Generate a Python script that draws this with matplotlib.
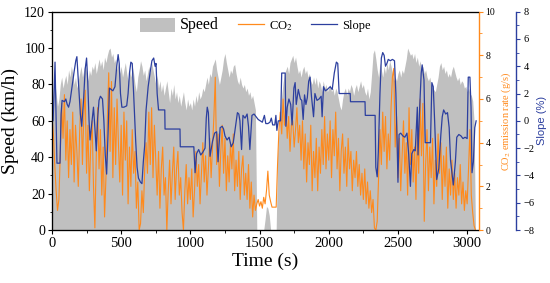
import numpy as np
import matplotlib
matplotlib.use("Agg")
import matplotlib.pyplot as plt
from matplotlib.patches import Patch, Rectangle
from matplotlib.lines import Line2D
from matplotlib.legend_handler import HandlerPatch
from matplotlib.ticker import MultipleLocator

plt.rcParams['font.family'] = ['Liberation Serif', 'DejaVu Serif']
plt.rcParams['mathtext.fontset'] = 'stix'

# time grid (s), one sample every 10 s
time = np.arange(0, 3061, 10)

# speed (km/h)
speed = [
    70, 78, 82, 75, 68, 72, 80, 84, 78, 82,
    85, 80, 88, 84, 90, 86, 80, 84, 78, 82,
    86, 90, 84, 88, 92, 86, 82, 88, 85, 90,
    88, 92, 86, 90, 94, 90, 93, 88, 95, 92,
    96, 99, 100, 95, 97, 92, 94, 88, 92, 86,
    90, 84, 88, 92, 86, 82, 88, 84, 90, 86,
    80, 76, 84, 88, 93, 90, 85, 88, 82, 86,
    90, 86, 92, 88, 84, 80, 85, 78, 82, 76,
    80, 74, 78, 82, 76, 70, 78, 74, 80, 72,
    76, 70, 74, 68, 72, 76, 70, 66, 72, 68,
    70, 66, 72, 68, 74, 70, 76, 72, 74, 78,
    76, 80, 84, 80, 86, 84, 90, 92, 94, 88,
    84, 80, 84, 88, 94, 97, 92, 88, 84, 88,
    86, 90, 91, 86, 82, 80, 84, 80, 78, 80,
    76, 78, 74, 76, 72, 74, 70, 66, 0, 0,
    0, 0, 0, 0, 6, 13, 12, 8, 0, 0,
    0, 0, 0, 42, 55, 66, 74, 81, 86, 88,
    90, 86, 92, 94, 96, 92, 95, 90, 86, 88,
    84, 88, 90, 86, 88, 84, 86, 82, 80, 84,
    80, 84, 78, 82, 80, 76, 82, 78, 80, 76,
    78, 80, 76, 78, 74, 78, 76, 72, 68, 66,
    72, 76, 78, 74, 78, 76, 80, 78, 74, 78,
    80, 76, 79, 82, 78, 80, 76, 74, 78, 72,
    76, 86, 97, 99, 94, 88, 84, 92, 88, 84,
    90, 86, 92, 88, 93, 90, 86, 82, 84, 82,
    86, 88, 84, 88, 86, 90, 94, 100, 98, 96,
    97, 94, 97, 92, 95, 90, 93, 88, 90, 86,
    88, 84, 82, 84, 80, 78, 77, 76, 80, 84,
    90, 92, 88, 90, 86, 88, 84, 86, 84, 88,
    90, 87, 84, 82, 84, 80, 82, 81, 78, 79,
    76, 78, 75, 74, 71, 60, 0,
]

# CO2 emission rate (g/s)
co2 = [
    5.2, 4.4, 3.0, 1.8, 0.9, 1.4, 3.5, 5.8, 4.2, 6.2,
    3.2, 5.0, 2.4, 4.6, 3.0, 5.4, 2.2, 4.8, 3.6, 2.0,
    4.5, 6.0, 3.0, 5.2, 6.4, 2.6, 4.8, 1.8, 3.8, 5.0,
    2.0, 0.1, 3.4, 5.6, 2.8, 4.6, 1.6, 3.8, 0.6, 2.4,
    5.0, 7.2, 3.6, 6.8, 2.4, 5.6, 3.0, 6.0, 4.0, 2.2,
    4.8, 1.6, 5.4, 3.2, 5.0, 1.2, 3.8, 2.0, 4.6, 2.6,
    3.6, 1.0, 2.2, 0.0, 0.3, 1.8, 0.8, 2.8, 4.0, 2.6,
    5.4, 3.0, 5.6, 2.4, 4.8, 3.2, 1.6, 3.6, 1.0, 2.8,
    3.8, 1.6, 2.4, 0.0, 1.8, 3.2, 1.2, 2.6, 3.8, 1.4,
    2.8, 3.6, 1.6, 2.4, 0.8, 0.0, 1.8, 3.0, 1.2, 2.4,
    1.4, 2.8, 0.6, 1.8, 3.6, 2.0, 3.0, 1.2, 2.6, 4.0,
    2.2, 3.4, 1.6, 2.8, 4.2, 2.4, 3.8, 5.2, 7.0, 3.0,
    4.4, 2.0, 3.6, 4.8, 2.6, 4.2, 1.8, 3.4, 2.2, 4.0,
    2.8, 4.4, 1.8, 3.2, 2.0, 3.6, 1.4, 2.8, 3.4, 1.6,
    2.6, 1.4, 3.0, 1.0, 2.2, 0.6, 1.6, 0.9, 1.2, 1.4,
    1.1, 1.3, 1.0, 1.5, 1.2, 1.8, 2.7, 1.6, 1.3, 1.05,
    1.05, 1.05, 1.05, 3.0, 4.6, 5.4, 4.4, 6.0, 4.8, 5.6,
    4.2, 5.2, 3.6, 4.8, 5.0, 3.8, 4.6, 5.6, 4.0, 4.8,
    3.2, 5.0, 2.8, 4.4, 2.2, 4.0, 3.0, 4.8, 1.8, 3.6,
    2.4, 4.2, 1.8, 3.8, 2.6, 4.6, 3.0, 5.2, 2.8, 4.4,
    3.2, 5.0, 2.4, 4.6, 3.4, 5.4, 2.8, 4.2, 1.8, 3.6,
    4.4, 2.6, 3.8, 2.0, 4.2, 2.8, 3.6, 1.8, 3.2, 2.4,
    3.6, 2.0, 3.0, 1.6, 2.6, 1.4, 2.8, 1.2, 2.2, 1.0,
    1.8, 0.8, 1.4, 0.1, 0.0, 0.4, 2.4, 4.6, 3.0, 5.4,
    3.6, 5.2, 2.8, 4.4, 3.2, 5.6, 7.0, 7.4, 3.8, 5.2,
    2.4, 4.2, 1.8, 3.4, 5.0, 2.6, 4.0, 1.6, 5.6, 3.0,
    4.6, 2.2, 3.8, 1.4, 4.4, 2.6, 6.0, 3.4, 5.8, 0.4,
    3.0, 4.6, 1.8, 3.8, 2.4, 4.2, 1.2, 3.2, 2.0, 4.4,
    2.6, 4.0, 1.4, 3.4, 2.0, 3.8, 1.0, 2.8, 1.6, 3.2,
    1.4, 2.6, 1.0, 2.4, 1.6, 3.0, 1.2, 2.2, 0.9, 1.8,
    1.2, 2.8, 4.6, 1.6, 0.8, 0.2, 0.0,
]

# road slope (%), read at its break points
slope_t = [0, 8, 15, 22, 28, 36, 58, 66, 73, 90, 100, 110, 120, 130, 145, 160, 172, 180, 190, 205,
           215, 228, 240, 250, 258, 268, 275, 290, 300, 310, 320, 330, 340, 350, 365, 375, 385, 395, 405, 415,
           428, 440, 455, 468, 478, 486, 495, 505, 520, 540, 550, 560, 570, 580, 590, 605, 615, 625, 640, 650,
           660, 670, 680, 695, 710, 722, 735, 745, 752, 760, 770, 815, 817, 925, 927, 1025, 1034, 1045, 1060, 1075,
           1090, 1106, 1115, 1122, 1130, 1142, 1160, 1175, 1190, 1200, 1215, 1230, 1240, 1250, 1265, 1280, 1295, 1310, 1325, 1340,
           1350, 1358, 1370, 1380, 1395, 1410, 1420, 1430, 1445, 1460, 1475, 1490, 1505, 1520, 1535, 1545, 1560, 1575, 1585, 1595,
           1610, 1618, 1625, 1635, 1652, 1660, 1685, 1690, 1700, 1712, 1725, 1735, 1748, 1757, 1765, 1780, 1795, 1805, 1815, 1825,
           1835, 1845, 1855, 1865, 1875, 1890, 1900, 1915, 1930, 1945, 1952, 1962, 1975, 1990, 2010, 2025, 2040, 2055, 2065, 2075,
           2155, 2157, 2262, 2264, 2335, 2340, 2350, 2358, 2370, 2380, 2390, 2400, 2410, 2420, 2430, 2445, 2460, 2475, 2485, 2495,
           2500, 2508, 2520, 2535, 2550, 2565, 2578, 2590, 2600, 2615, 2625, 2640, 2645, 2655, 2668, 2675, 2688, 2697, 2735, 2745,
           2755, 2765, 2780, 2795, 2810, 2820, 2830, 2845, 2858, 2870, 2880, 2900, 2915, 2925, 2940, 2955, 2970, 2985, 3000, 3008,
           3020, 3028, 3035, 3045, 3055, 3065]
slope_v = [1.0, 0.0, 2.0, 4.3, 1.0, -3.1, -3.1, 0.5, 1.5, 1.4, 1.6, 1.2, 1.0, 1.4, 2.5, 3.6, 4.4, 4.7, 3.0, 0.5,
           -0.4, 1.5, 3.8, 4.6, 3.0, 0.0, -1.4, 0.0, 1.0, -0.5, -2.2, 0.2, 1.5, 1.8, 1.6, 0.0, -2.5, -3.9, -1.0, 2.4,
           2.3, 2.2, 2.5, 4.0, 4.85, 4.2, 2.0, 1.0, 1.0, 1.1, 2.0, 3.5, 4.3, 4.2, 2.0, -1.5, -3.4, -4.2, -4.5, -4.6,
           -3.0, -1.8, 0.8, 2.5, 3.6, 4.4, 4.6, 4.0, 4.2, 2.0, 0.8, 0.8, -0.6, -0.6, -1.9, -1.9, -3.8, -2.4, -2.1, -2.5,
           -2.3, -2.0, 0.2, 1.0, 0.6, -2.6, -1.5, -0.9, -0.8, -3.0, -0.5, -0.4, -0.6, -1.1, -1.4, -1.2, -1.9, -1.6, -0.5, 0.6,
           0.5, 0.0, -2.1, 0.4, 0.2, 0.5, -0.4, -2.1, 0.4, 0.5, 0.3, 0.1, 0.0, -0.1, 0.4, -0.2, -0.2, -0.1, 0.2, -0.3,
           -0.3, 0.4, -0.7, 0.0, 0.0, 3.5, 3.5, -0.4, 1.0, 1.6, 1.2, -0.3, 2.4, 2.8, 1.2, 2.3, 1.6, 1.5, 0.1, 1.9,
           1.2, 1.7, 2.9, 3.2, 1.8, 0.3, 2.0, 1.5, 1.6, 1.8, 0.3, 2.5, 2.2, 2.3, 2.5, 2.3, 3.5, 4.3, 4.2, 2.0,
           2.0, 1.4, 1.4, 0.4, 0.4, -3.4, -4.1, -2.3, 2.0, 4.6, 5.0, 4.8, 4.0, 4.2, 4.5, 4.4, 4.5, 4.4, 2.0, -2.0,
           -4.5, -1.0, -0.9, -1.1, -1.2, -0.9, -2.5, -4.8, -2.4, -2.1, -2.2, 1.0, -2.5, 0.5, 3.5, 4.1, 3.0, -1.6, -1.6, 2.8,
           2.5, 0.0, -4.3, -3.5, -1.0, 0.3, 0.8, 0.5, 0.6, -0.5, -2.9, -4.7, -3.0, -1.2, -1.0, -1.1, -1.3, -1.2, -1.3, 3.2,
           3.2, 1.0, -3.8, -3.0, -0.5, 0.0]

gray = '#c0c0c0'
orange = '#ff8a1c'
blue = '#2c3f9f'

fig = plt.figure(figsize=(5.5, 2.83), dpi=100)
ax = fig.add_axes([0.0945, 0.187, 0.7755, 0.772])

ax.fill_between(time, speed, 0, color=gray, lw=0)
ax.set_xlim(0, 3082)
ax.set_ylim(0, 120)
ax.set_yticks(range(0, 121, 20))
ax.yaxis.set_minor_locator(MultipleLocator(10))
ax.set_xticks(range(0, 3001, 500))
ax.xaxis.set_minor_locator(MultipleLocator(250))
ax.tick_params(which='major', length=3, width=0.8, labelsize=10, pad=2)
ax.tick_params(which='minor', length=1.8, width=0.6)
ax.tick_params(axis='x', labelsize=10.5)
ax.set_xlabel('Time (s)', fontsize=14, labelpad=2)
ax.set_ylabel('Speed (km/h)', fontsize=14, labelpad=4)
ax.spines['right'].set_visible(False)

ax2 = ax.twinx()
ax2.plot(time, co2, color=orange, lw=0.8)
ax2.set_ylim(0, 10)
ax2.set_yticks(range(0, 11, 2))
ax2.yaxis.set_minor_locator(MultipleLocator(1))
ax2.tick_params(which='major', length=3, width=0.8, color=orange, labelsize=7, pad=2)
ax2.tick_params(which='minor', length=1.8, width=0.6, color=orange)
ax2.spines['right'].set_color(orange)
ax2.spines['right'].set_linewidth(1.0)
ax2.set_ylabel('CO$_2$ emission rate (g/s)', color=orange, fontsize=7.5, labelpad=3)

ax3 = ax.twinx()
ax3.spines['right'].set_position(('axes', 1.089))
ax3.plot(slope_t, slope_v, color=blue, lw=0.9)
ax3.set_ylim(-8, 8)
ax3.set_yticks(range(-8, 9, 2))
ax3.yaxis.set_minor_locator(MultipleLocator(1))
ax3.tick_params(which='major', length=3, width=0.8, color=blue, labelsize=7.5, pad=2)
ax3.tick_params(which='minor', length=1.8, width=0.6, color=blue)
ax3.spines['right'].set_color(blue)
ax3.spines['right'].set_linewidth(1.0)
ax3.set_ylabel('Slope (%)', color=blue, fontsize=8, family='Liberation Sans', labelpad=2)


# the grey speed swatch is wider than the line handles, so stretch it to the left
def wide_patch(legend, orig_handle, xdescent, ydescent, width, height, fontsize):
    extra = 0.35 * width
    return Rectangle((-xdescent - extra, -ydescent), width + extra, height)


handles = [Patch(facecolor=gray, edgecolor='none'),
           Line2D([], [], color=orange, lw=0.9),
           Line2D([], [], color=blue, lw=0.9)]
leg = ax3.legend(handles, ['Speed', 'CO$_2$', 'Slope'], ncol=3, frameon=False,
                 loc='center left', bbox_to_anchor=(149 / 550, 1 - 25 / 283),
                 bbox_transform=fig.transFigure, borderpad=0, borderaxespad=0,
                 fontsize=9, handlelength=2.08, handleheight=1.3,
                 columnspacing=1.5, handletextpad=0.4,
                 handler_map={Patch: HandlerPatch(patch_func=wide_patch)})
leg.get_texts()[0].set_fontsize(11.5)

fig.savefig('out.png', dpi=100)
